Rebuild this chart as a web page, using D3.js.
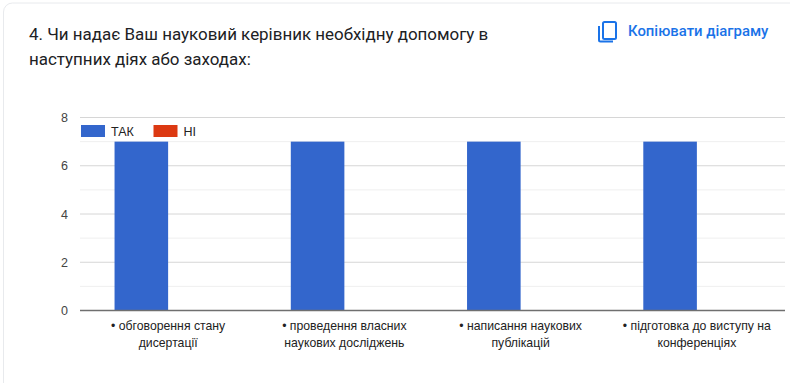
<!DOCTYPE html>
<html><head><meta charset="utf-8">
<script src="https://cdn.jsdelivr.net/npm/d3@7"></script>
<style>html,body{margin:0;padding:0;background:#fff}svg{display:block}</style>
</head><body><svg id="c" width="800" height="383"></svg>
<script>
const titleLines = ["4. Чи надає Ваш науковий керівник необхідну допомогу в","наступних діях або заходах:"];
const copyLabel = "Копіювати діаграму";
const categories = [["• обговорення стану","дисертації"],["• проведення власних","наукових досліджень"],["• написання наукових","публікацій"],["• підготовка до виступу на","конференціях"]];
const seriesNames = ["ТАК","НІ"];
const seriesColors = ["#3366cc","#dc3912"];
const yesValues = [7,7,7,7];
const noValues = [0,0,0,0];
const yTicks = [0,2,4,6,8];
const yMinor = [1,3,5,7];

const font = "Roboto, Arial, sans-serif";
const svg = d3.select("#c");
svg.append("path").attr("d","M3.5,383V12a9,9 0 0 1 9,-9H790").attr("fill","none").attr("stroke","#e8eaed");

const titleG = svg.append("g").attr("font-family",font).attr("font-size",16.95).attr("fill","#202124");
titleLines.forEach((t,i)=>titleG.append("text").attr("x",29).attr("y",39.5+i*25).text(t));

const ic = svg.append("g").attr("fill","none").attr("stroke","#1a73e8").attr("stroke-width",2);
ic.append("rect").attr("x",603).attr("y",22).attr("width",13).attr("height",17).attr("rx",1.5);
ic.append("path").attr("d","M599,26V40a1.5,1.5 0 0 0 1.5,1.5H613");
svg.append("text").attr("x",628).attr("y",36).attr("font-family",font).attr("font-size",14.9).attr("font-weight",500).attr("fill","#1a73e8").text(copyLabel);

const x = d3.scaleBand().domain(d3.range(categories.length)).range([80,785]);
const sub = d3.scaleBand().domain([0,1]).range([x.bandwidth()*0.196,x.bandwidth()*0.804]);
const y = d3.scaleLinear().domain([0,8]).range([310.5,117.5]);

svg.append("g").selectAll("line").data(yMinor).join("line")
  .attr("x1",80).attr("x2",785).attr("y1",d=>y(d)).attr("y2",d=>y(d)).attr("stroke","#efefef");
svg.append("g").selectAll("line").data(yTicks.filter(d=>d)).join("line")
  .attr("x1",80).attr("x2",785).attr("y1",d=>y(d)).attr("y2",d=>y(d)).attr("stroke","#d6d6d6");

[yesValues,noValues].forEach((vals,s)=>{
  svg.append("g").attr("fill",seriesColors[s]).selectAll("rect").data(vals).join("rect")
    .attr("x",(d,i)=>x(i)+sub(s)).attr("width",sub.bandwidth())
    .attr("y",d=>y(d)).attr("height",d=>y(0)-y(d));
});
svg.append("line").attr("x1",80).attr("x2",785).attr("y1",y(0)).attr("y2",y(0)).attr("stroke","#6f6f6f").attr("stroke-width",1.5);

svg.append("g").selectAll("text").data(yTicks).join("text")
  .attr("x",68).attr("y",d=>y(d)+4.5).attr("text-anchor","end")
  .attr("font-family","Arial, Liberation Sans, sans-serif").attr("font-size",12.5).attr("fill","#444").text(d=>d);

const catG = svg.append("g").attr("font-family","Arial, Liberation Sans, sans-serif").attr("font-size",12.25).attr("fill","#222").attr("text-anchor","middle");
categories.forEach((lines,i)=>lines.forEach((t,j)=>
  catG.append("text").attr("x",x(i)+x.bandwidth()/2).attr("y",330+j*17).text(t)));

const legendX = [81,153.5];
seriesNames.forEach((n,i)=>{
  svg.append("rect").attr("x",legendX[i]).attr("y",125).attr("width",24).attr("height",12).attr("fill",seriesColors[i]);
  svg.append("text").attr("x",legendX[i]+30).attr("y",135.5).attr("font-family","Arial, Liberation Sans, sans-serif").attr("font-size",12.5).attr("fill","#222").text(n);
});
</script></body></html>
